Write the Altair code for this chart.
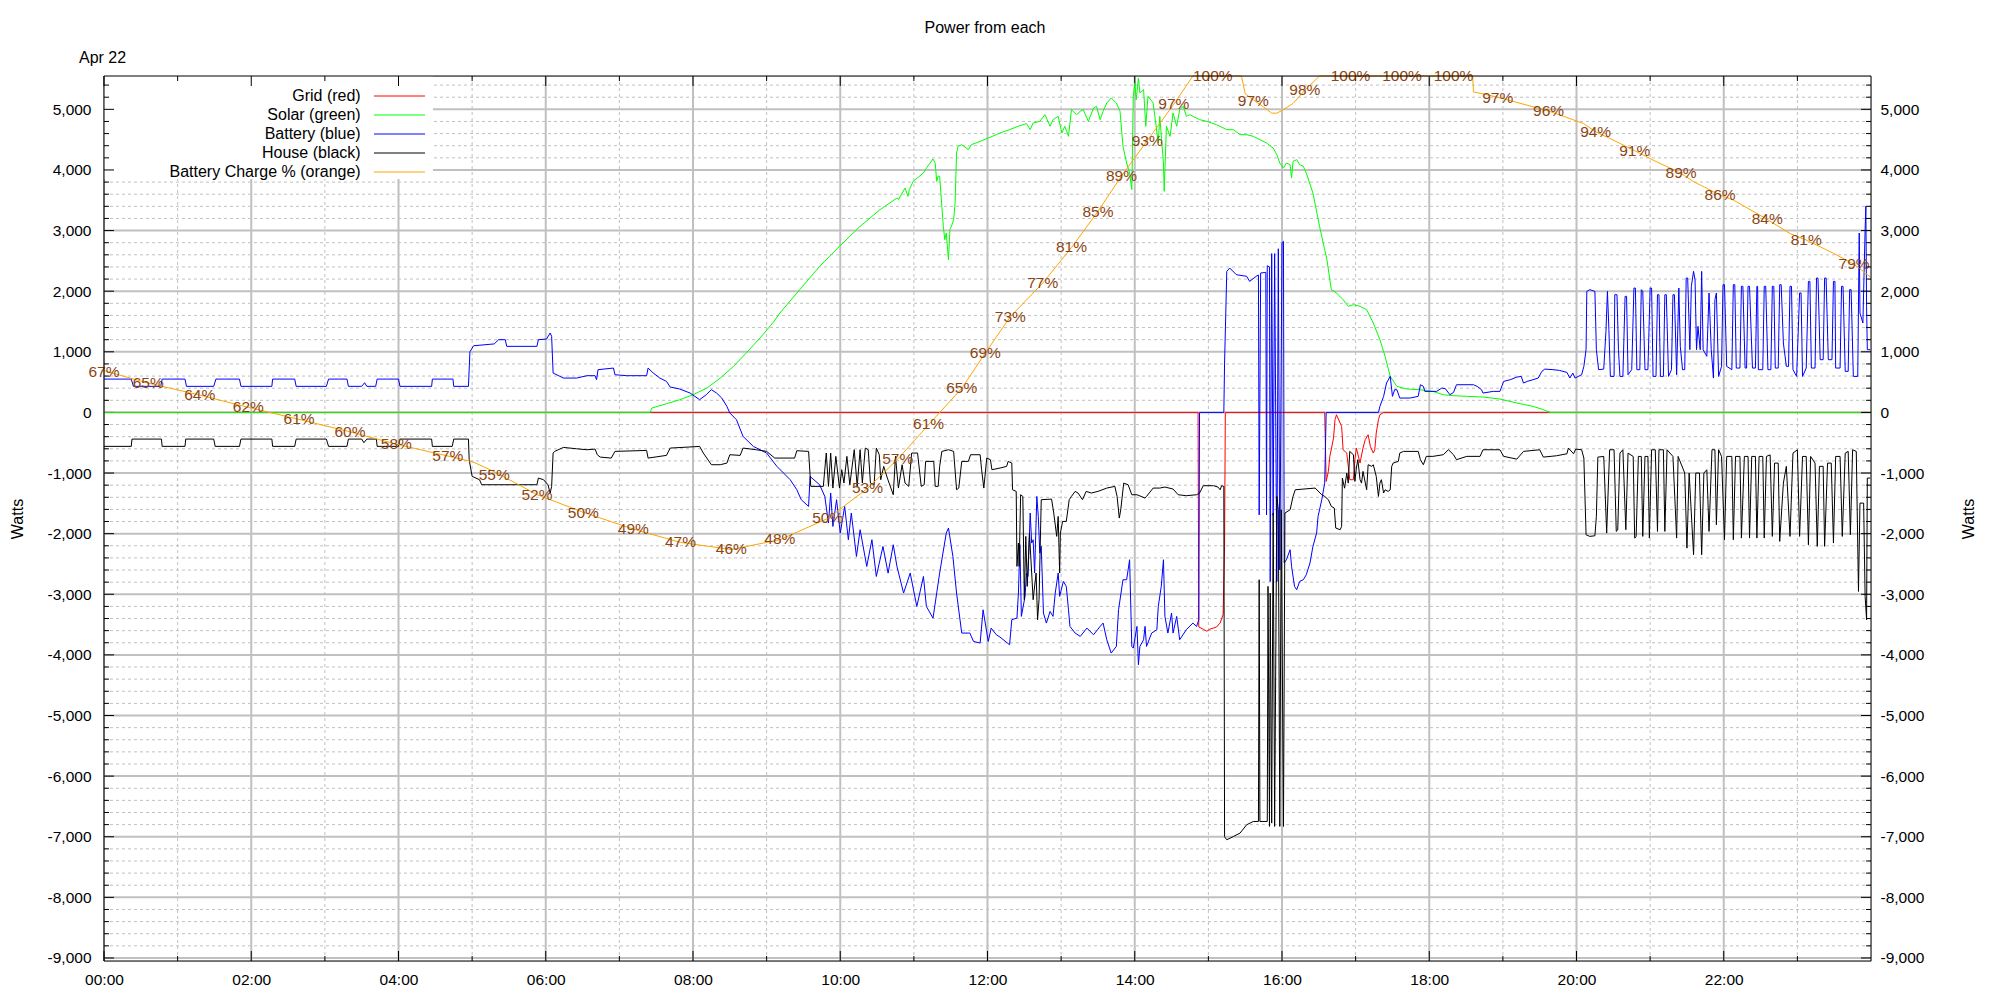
import altair as alt
import pandas as pd

# ------------------------------------------------------------------ data
# time in hours since midnight, value in watts
grid_points = [
    (0.00, 0), (14.86, 0), (14.87, -3541), (14.93, -3576), (14.98, -3610), (15.02, -3576),
    (15.11, -3541), (15.16, -3473), (15.20, -3336), (15.22, -2206), (15.23, 0), (16.58, 0),
    (16.60, -1138), (16.63, -973), (16.65, -726), (16.70, -423), (16.72, -120), (16.74, -38),
    (16.81, -231), (16.83, -616), (16.88, -670), (16.92, -1110), (16.97, -1110), (16.99, -780),
    (17.01, -588), (17.06, -835), (17.10, -588), (17.13, -451), (17.17, -368), (17.20, -561),
    (17.24, -670), (17.26, -616), (17.28, -340), (17.31, -120), (17.33, -38), (17.38, 0), (24.00, 0),
]

solar_points = [
    (0.00, 0), (7.42, 0), (7.44, 72), (7.64, 143), (7.82, 209), (8.00, 292), (8.19, 402),
    (8.37, 567), (8.55, 759), (8.73, 990), (8.91, 1227), (9.09, 1485), (9.18, 1640), (9.45, 2025),
    (9.72, 2410), (9.99, 2740), (10.27, 3070), (10.54, 3345), (10.77, 3537), (10.79, 3510),
    (10.88, 3702), (10.92, 3565), (10.94, 3680), (10.99, 3812), (11.13, 3950), (11.17, 4030),
    (11.26, 4181), (11.29, 4110), (11.31, 3812), (11.33, 3900), (11.35, 3895), (11.38, 3400),
    (11.40, 3070), (11.42, 2850), (11.44, 2960), (11.47, 2520), (11.49, 3020), (11.51, 3070),
    (11.54, 3180), (11.56, 3450), (11.58, 4280), (11.60, 4390), (11.65, 4417), (11.74, 4335),
    (11.78, 4417), (11.90, 4472), (12.12, 4582), (12.17, 4610), (12.30, 4665), (12.44, 4731),
    (12.53, 4764), (12.58, 4665), (12.62, 4775), (12.71, 4802), (12.78, 4912), (12.85, 4720),
    (12.89, 4830), (12.96, 4885), (13.01, 4610), (13.05, 4720), (13.10, 4555), (13.14, 4995),
    (13.21, 4912), (13.26, 4967), (13.30, 4995), (13.37, 4802), (13.44, 5022), (13.48, 5050),
    (13.53, 4830), (13.57, 4967), (13.62, 5105), (13.68, 5187), (13.75, 5105), (13.80, 4967),
    (13.84, 4390), (13.89, 4115), (13.93, 3950), (13.96, 3675), (13.98, 5215), (14.00, 5435),
    (14.02, 5160), (14.05, 5517), (14.07, 5270), (14.12, 5325), (14.15, 4720), (14.18, 5215),
    (14.25, 5105), (14.32, 4445), (14.34, 4885), (14.39, 4115), (14.40, 3647), (14.43, 4720),
    (14.48, 4555), (14.52, 4940), (14.57, 4720), (14.61, 4995), (14.66, 5050), (14.70, 4885),
    (14.75, 4912), (14.79, 4885), (14.88, 4830), (14.98, 4802), (15.11, 4747), (15.25, 4665),
    (15.34, 4665), (15.43, 4582), (15.52, 4582), (15.61, 4555), (15.70, 4500), (15.79, 4445),
    (15.88, 4362), (15.93, 4252), (15.97, 4115), (16.02, 4032), (16.06, 4115), (16.11, 4087),
    (16.13, 3867), (16.15, 4142), (16.20, 4170), (16.24, 4087), (16.29, 4060), (16.33, 3950),
    (16.42, 3620), (16.51, 3070), (16.61, 2520), (16.67, 2025), (16.74, 1970), (16.83, 1860),
    (16.90, 1750), (16.97, 1777), (17.06, 1750), (17.15, 1695), (17.24, 1475), (17.33, 1200),
    (17.40, 925), (17.47, 595), (17.56, 430), (17.69, 386), (17.87, 375), (18.05, 347),
    (18.19, 292), (18.33, 276), (18.51, 265), (18.73, 254), (18.96, 221), (19.19, 155),
    (19.41, 100), (19.55, 45), (19.64, 0), (24.00, 0),
]

battery_points = [
    (0.00, 550), (0.37, 550), (0.40, 430), (0.77, 430), (0.79, 550), (1.10, 550), (1.12, 430),
    (1.49, 430), (1.52, 550), (1.84, 550), (1.86, 430), (2.28, 430), (2.29, 550), (2.59, 550),
    (2.61, 430), (3.02, 430), (3.05, 550), (3.30, 550), (3.32, 430), (3.50, 430), (3.54, 490),
    (3.57, 430), (3.69, 430), (3.71, 550), (4.00, 550), (4.02, 430), (4.45, 430), (4.46, 550),
    (4.74, 550), (4.75, 430), (4.95, 430), (4.97, 1000), (5.02, 1100), (5.30, 1130), (5.36, 1200),
    (5.45, 1200), (5.47, 1090), (5.88, 1090), (5.90, 1200), (6.01, 1210), (6.06, 1310),
    (6.08, 1255), (6.10, 650), (6.24, 567), (6.42, 567), (6.56, 606), (6.67, 606), (6.69, 540),
    (6.71, 705), (6.92, 732), (6.94, 622), (7.10, 606), (7.37, 606), (7.39, 732), (7.46, 650),
    (7.55, 567), (7.64, 512), (7.69, 419), (7.82, 386), (7.96, 320), (8.09, 210), (8.18, 292),
    (8.25, 375), (8.32, 320), (8.39, 238), (8.46, 100), (8.50, -10), (8.59, -120), (8.68, -396),
    (8.82, -561), (9.00, -670), (9.14, -891), (9.32, -1110), (9.41, -1275), (9.47, -1440),
    (9.57, -1551), (9.59, -1056), (9.72, -1193), (9.79, -1385), (9.84, -1825), (9.87, -1330),
    (9.90, -1881), (9.95, -1440), (10.00, -1990), (10.06, -1551), (10.11, -2100), (10.15, -1660),
    (10.22, -2376), (10.27, -1935), (10.36, -2541), (10.43, -2100), (10.49, -2706), (10.58, -2211),
    (10.65, -2651), (10.72, -2183), (10.77, -2541), (10.86, -2980), (10.95, -2651), (11.04, -3201),
    (11.13, -2706), (11.17, -3201), (11.26, -3393), (11.35, -2651), (11.44, -1990), (11.47, -1908),
    (11.53, -2376), (11.58, -2980), (11.65, -3640), (11.76, -3640), (11.81, -3778), (11.90, -3805),
    (11.94, -3256), (12.01, -3778), (12.05, -3558), (12.12, -3668), (12.17, -3706), (12.30, -3833),
    (12.33, -3420), (12.40, -3393), (12.42, -2980), (12.44, -2183), (12.46, -3365), (12.51, -3035),
    (12.53, -2650), (12.55, -2705), (12.58, -1660), (12.60, -2155), (12.62, -2100), (12.64, -2650),
    (12.67, -1386), (12.69, -1716), (12.71, -2320), (12.73, -2210), (12.76, -3310), (12.80, -3475),
    (12.85, -3283), (12.89, -3365), (12.92, -2980), (12.96, -2650), (12.98, -3035), (13.03, -2788),
    (13.07, -2870), (13.10, -3255), (13.12, -3530), (13.19, -3640), (13.26, -3695), (13.35, -3558),
    (13.44, -3668), (13.53, -3530), (13.57, -3475), (13.62, -3750), (13.68, -3970), (13.75, -3860),
    (13.78, -3255), (13.84, -2760), (13.89, -2760), (13.93, -2430), (13.96, -3860), (13.98, -3888),
    (14.03, -3530), (14.05, -4163), (14.07, -3860), (14.12, -3750), (14.14, -3530), (14.16, -3860),
    (14.23, -3640), (14.30, -3585), (14.32, -3200), (14.36, -2870), (14.39, -2430), (14.41, -3365),
    (14.45, -3640), (14.50, -3310), (14.52, -3640), (14.57, -3365), (14.61, -3750), (14.70, -3585),
    (14.79, -3475), (14.84, -3530), (14.87, -3420), (14.88, 0), (15.21, 0), (15.22, 814),
    (15.25, 2327), (15.29, 2382), (15.38, 2272), (15.52, 2245), (15.56, 2162), (15.65, 2245),
    (15.68, 2267), (15.69, -1690), (15.71, 2300), (15.78, 2310), (15.79, -1690), (15.80, 2420),
    (15.83, 2400), (15.84, -2790), (15.86, 2620), (15.88, -1700), (15.90, 2620), (15.93, -2790),
    (15.95, 2700), (15.97, -2600), (16.00, 2800), (16.02, 2822), (16.03, -2485), (16.06, -2430),
    (16.11, -2265), (16.13, -2540), (16.17, -2870), (16.20, -2925), (16.24, -2788), (16.29, -2760),
    (16.33, -2678), (16.38, -2485), (16.42, -2210), (16.47, -1990), (16.49, -1716), (16.54, -1441),
    (16.58, -1166), (16.60, 0), (17.31, 0), (17.33, 100), (17.38, 264), (17.42, 485), (17.47, 595),
    (17.50, 265), (17.53, 375), (17.56, 375), (17.60, 237), (17.74, 237), (17.85, 265), (17.88, 457),
    (17.92, 430), (17.94, 347), (18.10, 347), (18.17, 402), (18.22, 390), (18.28, 292), (18.33, 330),
    (18.37, 457), (18.60, 457), (18.65, 430), (18.71, 375), (18.73, 320), (18.87, 347), (18.96, 347),
    (19.01, 512), (19.10, 540), (19.19, 583), (19.25, 594), (19.28, 485), (19.33, 512), (19.41, 540),
    (19.48, 567), (19.53, 677), (19.57, 715), (19.68, 705), (19.77, 693), (19.87, 660), (19.91, 567),
    (19.95, 649), (19.98, 567), (20.07, 622), (20.10, 760), (20.13, 1035), (20.14, 1997),
    (20.18, 2025), (20.25, 1997), (20.27, 1035), (20.30, 705), (20.37, 715), (20.40, 1337),
    (20.42, 1997), (20.44, 1365), (20.46, 594), (20.51, 594), (20.52, 1942), (20.55, 1942),
    (20.57, 1035), (20.59, 594), (20.63, 594), (20.66, 1915), (20.68, 1915), (20.70, 622),
    (20.75, 705), (20.78, 2052), (20.80, 2052), (20.82, 705), (20.86, 705), (20.88, 2025),
    (20.90, 2000), (20.93, 705), (20.97, 705), (21.00, 2052), (21.02, 2052), (21.04, 594),
    (21.08, 594), (21.10, 1942), (21.12, 1942), (21.14, 594), (21.18, 594), (21.20, 1942),
    (21.22, 1942), (21.25, 594), (21.29, 705), (21.31, 1942), (21.33, 1942), (21.36, 622),
    (21.39, 2052), (21.41, 1090), (21.44, 705), (21.47, 705), (21.49, 2217), (21.51, 2217),
    (21.54, 1035), (21.56, 2080), (21.59, 2327), (21.61, 2190), (21.63, 1035), (21.65, 1420),
    (21.68, 1035), (21.70, 2327), (21.72, 1035), (21.77, 925), (21.80, 1970), (21.83, 1035),
    (21.86, 567), (21.88, 1860), (21.90, 1970), (21.93, 594), (21.97, 760), (21.99, 2107),
    (22.01, 2107), (22.04, 760), (22.11, 705), (22.13, 2107), (22.15, 2107), (22.17, 732),
    (22.22, 732), (22.24, 2080), (22.26, 2080), (22.29, 732), (22.31, 732), (22.33, 2080),
    (22.35, 2080), (22.39, 732), (22.43, 732), (22.45, 2080), (22.46, 2080), (22.47, 705),
    (22.53, 705), (22.55, 2080), (22.57, 2080), (22.60, 705), (22.64, 705), (22.66, 2080),
    (22.68, 2080), (22.70, 732), (22.74, 732), (22.76, 2107), (22.78, 2107), (22.81, 1145),
    (22.85, 760), (22.88, 760), (22.90, 2080), (22.92, 2080), (22.94, 705), (22.99, 594),
    (23.03, 1970), (23.05, 1970), (23.07, 594), (23.12, 732), (23.15, 2162), (23.17, 2162),
    (23.19, 732), (23.24, 732), (23.26, 2217), (23.28, 2217), (23.31, 870), (23.35, 870),
    (23.37, 2217), (23.39, 2217), (23.42, 870), (23.47, 870), (23.49, 2162), (23.51, 2162),
    (23.52, 732), (23.58, 732), (23.60, 2080), (23.62, 2080), (23.65, 677), (23.69, 677),
    (23.71, 2025), (23.73, 2025), (23.76, 594), (23.82, 594), (23.84, 2960), (23.85, 1640),
    (23.89, 1475), (23.92, 3015), (23.93, 3400), (23.94, 1750), (23.95, 1035), (23.99, 1035),
]

house_points = [
    (0.00, -560), (0.37, -560), (0.38, -440), (0.78, -440), (0.79, -560), (1.10, -560),
    (1.11, -440), (1.49, -440), (1.51, -560), (1.84, -560), (1.86, -440), (2.28, -440),
    (2.29, -560), (2.59, -560), (2.61, -440), (3.02, -440), (3.05, -560), (3.30, -560),
    (3.32, -440), (3.50, -440), (3.53, -500), (3.57, -440), (3.70, -440), (3.71, -560),
    (4.00, -560), (4.02, -440), (4.45, -440), (4.46, -560), (4.73, -560), (4.75, -440),
    (4.95, -440), (4.96, -780), (5.00, -1055), (5.10, -1110), (5.13, -1193), (5.38, -1193),
    (5.88, -1193), (5.90, -1083), (5.97, -1110), (6.03, -1193), (6.06, -1330), (6.08, -1220),
    (6.10, -670), (6.12, -643), (6.24, -577), (6.42, -600), (6.56, -616), (6.67, -605),
    (6.70, -698), (6.74, -737), (6.89, -753), (6.94, -643), (7.37, -627), (7.39, -753),
    (7.64, -709), (7.69, -588), (8.09, -561), (8.14, -670), (8.25, -863), (8.37, -863),
    (8.46, -836), (8.50, -698), (8.64, -709), (8.68, -588), (8.86, -616), (9.00, -643),
    (9.11, -753), (9.38, -753), (9.41, -632), (9.57, -643), (9.60, -1220), (9.77, -1220),
    (9.81, -670), (9.84, -1220), (9.87, -670), (9.90, -1248), (9.94, -725), (9.99, -1248),
    (10.02, -945), (10.05, -1165), (10.09, -725), (10.13, -1193), (10.19, -615), (10.23, -1220),
    (10.27, -615), (10.30, -1165), (10.34, -588), (10.38, -615), (10.41, -1165), (10.46, -1193),
    (10.49, -588), (10.53, -698), (10.55, -1110), (10.59, -890), (10.64, -1083), (10.72, -1358),
    (10.75, -725), (10.79, -1248), (10.84, -863), (10.88, -1165), (10.93, -1220), (10.97, -670),
    (11.05, -670), (11.10, -1220), (11.14, -1193), (11.16, -808), (11.27, -808), (11.29, -1220),
    (11.33, -1220), (11.35, -890), (11.38, -643), (11.47, -615), (11.54, -643), (11.58, -1275),
    (11.61, -1248), (11.65, -808), (11.74, -808), (11.77, -698), (11.90, -698), (11.92, -945),
    (11.95, -1248), (11.99, -753), (12.04, -780), (12.06, -945), (12.17, -918), (12.26, -890),
    (12.28, -808), (12.33, -835), (12.34, -1276), (12.39, -1303), (12.40, -2540), (12.42, -2155),
    (12.43, -2540), (12.45, -1358), (12.48, -1386), (12.50, -3090), (12.52, -2045), (12.54, -2870),
    (12.57, -1990), (12.60, -2650), (12.62, -3090), (12.66, -2650), (12.68, -3420), (12.70, -3090),
    (12.73, -1440), (12.87, -1430), (12.90, -1660), (12.94, -2045), (12.96, -1716), (12.98, -2650),
    (12.99, -1990), (13.02, -1798), (13.07, -1798), (13.11, -1440), (13.14, -1386), (13.19, -1303),
    (13.23, -1330), (13.29, -1440), (13.34, -1303), (13.41, -1330), (13.50, -1303), (13.62, -1248),
    (13.73, -1220), (13.76, -1386), (13.79, -1743), (13.81, -1606), (13.85, -1166), (13.91, -1193),
    (13.96, -1358), (14.03, -1358), (14.14, -1413), (14.16, -1386), (14.25, -1248), (14.34, -1248),
    (14.41, -1231), (14.52, -1264), (14.59, -1358), (14.70, -1374), (14.84, -1358), (14.88, -1330),
    (14.93, -1209), (15.07, -1209), (15.13, -1231), (15.16, -1276), (15.18, -1209), (15.21, -1220),
    (15.22, -7000), (15.25, -7050), (15.34, -6996), (15.43, -6940), (15.52, -6803), (15.61, -6748),
    (15.68, -6748), (15.69, -2760), (15.70, -6748), (15.80, -6748), (15.81, -2870), (15.83, -6830),
    (15.84, -2980), (15.86, -6775), (15.88, -1660), (15.90, -6830), (15.93, -1386), (15.95, -1606),
    (15.97, -6830), (15.99, -1606), (16.02, -6830), (16.04, -1660), (16.11, -1606), (16.15, -1386),
    (16.18, -1276), (16.45, -1248), (16.54, -1358), (16.58, -1386), (16.63, -1440), (16.67, -1550),
    (16.71, -1578), (16.73, -1908), (16.79, -1935), (16.81, -1880), (16.82, -1083), (16.85, -1250),
    (16.88, -1000), (16.90, -1166), (16.92, -643), (16.97, -698), (16.99, -1138), (17.01, -918),
    (17.03, -780), (17.06, -1110), (17.08, -1166), (17.10, -973), (17.15, -1276), (17.17, -863),
    (17.22, -890), (17.24, -863), (17.28, -1055), (17.31, -1386), (17.33, -1166), (17.35, -1110),
    (17.38, -1330), (17.40, -1276), (17.44, -1303), (17.47, -1276), (17.49, -890), (17.51, -835),
    (17.58, -808), (17.60, -670), (17.65, -643), (17.85, -643), (17.88, -780), (17.92, -863),
    (17.96, -725), (18.05, -725), (18.19, -698), (18.26, -616), (18.33, -698), (18.37, -780),
    (18.51, -725), (18.69, -725), (18.73, -616), (18.96, -616), (19.01, -725), (19.19, -770),
    (19.28, -643), (19.50, -616), (19.55, -737), (19.73, -715), (19.87, -682), (19.89, -588),
    (19.96, -682), (19.99, -605), (20.07, -616), (20.10, -753), (20.13, -2018), (20.18, -2045),
    (20.25, -2035), (20.27, -1715), (20.29, -737), (20.37, -726), (20.41, -1990), (20.45, -616),
    (20.51, -616), (20.54, -1963), (20.56, -1940), (20.59, -671), (20.63, -616), (20.67, -1935),
    (20.70, -671), (20.77, -726), (20.79, -2073), (20.81, -2050), (20.84, -726), (20.88, -726),
    (20.90, -2045), (20.93, -726), (20.97, -726), (20.99, -2073), (21.02, -616), (21.07, -616),
    (21.10, -1963), (21.12, -616), (21.18, -616), (21.20, -1963), (21.23, -616), (21.31, -726),
    (21.36, -2073), (21.38, -726), (21.47, -1000), (21.50, -2238), (21.53, -1000), (21.59, -2348),
    (21.62, -1000), (21.67, -1000), (21.70, -2348), (21.73, -1000), (21.77, -946), (21.80, -1963),
    (21.84, -616), (21.88, -616), (21.90, -1853), (21.93, -616), (21.97, -726), (22.01, -2100),
    (22.04, -726), (22.11, -726), (22.13, -2100), (22.16, -726), (22.22, -726), (22.24, -2073),
    (22.28, -726), (22.33, -726), (22.35, -2073), (22.38, -726), (22.43, -726), (22.45, -2073),
    (22.48, -726), (22.53, -726), (22.55, -2073), (22.58, -726), (22.63, -700), (22.66, -2045),
    (22.69, -836), (22.74, -836), (22.76, -2128), (22.81, -1166), (22.85, -890), (22.90, -2045),
    (22.94, -671), (23.00, -616), (23.03, -2045), (23.07, -726), (23.12, -726), (23.15, -2183),
    (23.18, -726), (23.24, -836), (23.27, -2210), (23.30, -890), (23.35, -890), (23.37, -2210),
    (23.41, -836), (23.46, -836), (23.49, -2155), (23.52, -726), (23.58, -726), (23.61, -2045),
    (23.65, -671), (23.69, -643), (23.72, -2018), (23.75, -616), (23.80, -643), (23.83, -2953),
    (23.85, -1496), (23.90, -1496), (23.92, -3035), (23.94, -3420), (23.95, -1083), (23.99, -1083),
]

# battery state of charge, percent
charge_points = [
    (0.00, 66.7), (0.60, 65.3), (1.30, 63.95), (1.96, 62.56), (2.65, 61.2), (3.34, 59.8),
    (3.97, 58.4), (4.67, 57.06), (5.01, 56.4), (5.30, 55.3), (5.88, 52.7), (6.51, 50.7),
    (7.19, 48.8), (7.83, 47.3), (8.52, 46.5), (9.18, 47.6), (9.83, 50.0), (10.37, 53.4),
    (10.78, 56.7), (11.20, 60.6), (11.65, 64.7), (11.97, 68.7), (12.31, 72.8), (12.75, 76.6),
    (13.14, 80.6), (13.50, 84.7), (13.82, 88.7), (14.17, 92.7), (14.53, 96.8), (14.79, 100),
    (15.45, 100), (15.50, 98.0), (15.61, 97.3), (15.75, 96.5), (15.86, 95.8), (15.93, 95.8),
    (16.02, 96.2), (16.15, 96.9), (16.31, 98.4), (16.51, 100), (18.59, 100), (18.60, 98.2),
    (18.72, 98.0), (18.93, 97.6), (19.62, 96.05), (20.09, 94.65), (20.26, 93.7), (20.45, 92.96),
    (20.79, 91.56), (21.04, 90.5), (21.42, 89.0), (21.59, 88.06), (21.95, 86.55), (22.13, 85.99),
    (22.59, 83.8), (22.90, 82.2), (23.12, 81.47), (23.49, 79.97), (23.77, 78.72), (23.99, 77.3),
]

charge_labels = [
    (0.00, 66.6, "67%"), (0.60, 65.3, "65%"), (1.30, 63.95, "64%"), (1.96, 62.56, "62%"),
    (2.65, 61.2, "61%"), (3.34, 59.8, "60%"), (3.97, 58.4, "58%"), (4.67, 57.06, "57%"),
    (5.30, 54.9, "55%"), (5.88, 52.65, "52%"), (6.51, 50.66, "50%"), (7.19, 48.78, "49%"),
    (7.83, 47.31, "47%"), (8.52, 46.55, "46%"), (9.18, 47.65, "48%"), (9.83, 50.02, "50%"),
    (10.37, 53.41, "53%"), (10.78, 56.69, "57%"), (11.20, 60.64, "61%"), (11.65, 64.71, "65%"),
    (11.97, 68.67, "69%"), (12.31, 72.8, "73%"), (12.75, 76.64, "77%"), (13.14, 80.64, "81%"),
    (13.50, 84.67, "85%"), (13.82, 88.7, "89%"), (14.17, 92.69, "93%"), (14.53, 96.8, "97%"),
    (15.06, 100, "100%"), (15.61, 97.18, "97%"), (16.31, 98.42, "98%"), (16.93, 100, "100%"),
    (17.63, 100, "100%"), (18.33, 100, "100%"), (18.93, 97.55, "97%"), (19.62, 96.05, "96%"),
    (20.26, 93.7, "94%"), (20.79, 91.56, "91%"), (21.42, 89.0, "89%"), (21.95, 86.55, "86%"),
    (22.59, 83.8, "84%"), (23.12, 81.47, "81%"), (23.77, 78.72, "79%"),
]

legend_labels = ["Grid (red)", "Solar (green)", "Battery (blue)", "House (black)",
                 "Battery Charge % (orange)"]
legend_colors = ["#ff0000", "#00ff00", "#0000ff", "#000000", "#ffa500"]

y_major = list(range(-9000, 5001, 1000))
y_minor = [v for v in range(-9000, 5401, 200) if v % 1000 != 0]
x_major = list(range(0, 24, 2))
x_minor = list(range(1, 24, 2))

# ------------------------------------------------------------------ layout / style
W, H = 1767, 885
Y_DOMAIN = [-9050, 5550]
FONT = "Liberation Sans"
GRID = "#c0c0c0"
LABEL_BROWN = "#8b4513"

xscale = alt.Scale(domain=[0, 24], nice=False, zero=False)
yscale = alt.Scale(domain=Y_DOMAIN, nice=False, zero=False)
pscale = alt.Scale(domain=[0, 100], nice=False, zero=False)

YLAB = "(datum.value < 0 ? '-' : '') + format(abs(datum.value), ',')"
XLAB = "(datum.value < 10 ? '0' : '') + datum.value + ':00'"

one = pd.DataFrame({"a": [0]})


def xenc(axis=alt.Undefined):
    return alt.X("h:Q", scale=xscale, axis=axis)


def yenc(axis=alt.Undefined):
    return alt.Y("w:Q", scale=yscale, axis=axis)


def frame(points):
    return pd.DataFrame({"h": [p[0] for p in points], "w": [p[1] for p in points],
                         "i": list(range(len(points)))})


def series(points, color):
    return alt.Chart(frame(points)).mark_line(color=color, strokeWidth=1).encode(
        x=xenc(), y=yenc(), order=alt.Order("i:Q"))


left_axis = alt.Axis(
    orient="left", values=y_major, labelExpr=YLAB, ticks=False, domain=False, grid=False,
    labelPadding=13, labelFontSize=15.5, labelFont=FONT, labelColor="#000", labelOverlap=False,
    title="Watts", titleFont=FONT, titleFontSize=16, titleFontWeight="normal", titleColor="#000",
    titleAngle=270, titleX=-87, titleY=H / 2, titleAlign="center", titleBaseline="middle")

right_axis = alt.Axis(
    orient="right", values=y_major, labelExpr=YLAB, ticks=False, domain=False, grid=False,
    labelPadding=9, labelFontSize=15.5, labelFont=FONT, labelColor="#000", labelOverlap=False,
    title="Watts", titleFont=FONT, titleFontSize=16, titleFontWeight="normal", titleColor="#000",
    titleAngle=270, titleX=97, titleY=H / 2, titleAlign="center", titleBaseline="middle")

bottom_axis = alt.Axis(
    orient="bottom", values=x_major, labelExpr=XLAB, ticks=False, domain=False, grid=False,
    labelPadding=11, labelFontSize=15.5, labelFont=FONT, labelColor="#000", labelFlush=False,
    labelOverlap=False, title=None)

ymaj_df = pd.DataFrame({"w": y_major})
ymin_df = pd.DataFrame({"w": y_minor})
xmaj_df = pd.DataFrame({"h": x_major})
xmin_df = pd.DataFrame({"h": x_minor})

# the axis-carrying layers come first so their explicit settings win the merge
grid_major_h = alt.Chart(ymaj_df).mark_rule(color=GRID, strokeWidth=2).encode(y=yenc(left_axis))
grid_major_v = alt.Chart(xmaj_df).mark_rule(color=GRID, strokeWidth=2).encode(x=xenc(bottom_axis))
grid_minor_h = alt.Chart(ymin_df).mark_rule(color=GRID, strokeWidth=1, strokeDash=[3, 3]).encode(y=yenc())
grid_minor_v = alt.Chart(xmin_df).mark_rule(color=GRID, strokeWidth=1, strokeDash=[3, 3]).encode(x=xenc())

legend_box = alt.Chart(one).mark_rect(color="white").encode(
    x=alt.value(0), x2=alt.value(329), y=alt.value(0), y2=alt.value(103))

tick_style = dict(color="black", strokeWidth=1)
ticks = [
    alt.Chart(ymaj_df).mark_rule(**tick_style).encode(y=yenc(), x=alt.value(0), x2=alt.value(10)),
    alt.Chart(ymin_df).mark_rule(**tick_style).encode(y=yenc(), x=alt.value(0), x2=alt.value(5)),
    alt.Chart(xmaj_df).mark_rule(**tick_style).encode(x=xenc(), y=alt.value(H - 10), y2=alt.value(H)),
    alt.Chart(xmin_df).mark_rule(**tick_style).encode(x=xenc(), y=alt.value(H - 5), y2=alt.value(H)),
    alt.Chart(xmaj_df).mark_rule(**tick_style).encode(x=xenc(), y=alt.value(0), y2=alt.value(10)),
    alt.Chart(xmin_df).mark_rule(**tick_style).encode(x=xenc(), y=alt.value(0), y2=alt.value(5)),
]

main = alt.layer(
    grid_major_h, grid_major_v, grid_minor_h, grid_minor_v, legend_box, *ticks,
    series(grid_points, "#ff0000"),
    series(solar_points, "#00ff00"),
    series(battery_points, "#0000ff"),
    series(house_points, "#000000"),
)

charge_df = pd.DataFrame({"h": [p[0] for p in charge_points], "pct": [p[1] for p in charge_points],
                          "i": list(range(len(charge_points)))})
label_df = pd.DataFrame({"h": [p[0] for p in charge_labels], "pct": [p[1] for p in charge_labels],
                         "txt": [p[2] for p in charge_labels]})

charge = alt.layer(
    alt.Chart(charge_df).mark_line(color="#ffa500", strokeWidth=1).encode(
        x=xenc(), y=alt.Y("pct:Q", scale=pscale, axis=None), order=alt.Order("i:Q")),
    alt.Chart(label_df).mark_text(color=LABEL_BROWN, font=FONT, fontSize=15.5,
                                  align="center", baseline="middle").encode(
        x=xenc(), y=alt.Y("pct:Q", scale=pscale, axis=None), text="txt:N"),
)

right = alt.layer(
    alt.Chart(ymaj_df).mark_rule(**tick_style).encode(
        y=yenc(right_axis), x=alt.value(W - 10), x2=alt.value(W)),
    alt.Chart(ymin_df).mark_rule(**tick_style).encode(
        y=yenc(), x=alt.value(W - 5), x2=alt.value(W)),
)

legend_layers = []
for k, (lab, col) in enumerate(zip(legend_labels, legend_colors)):
    legend_layers.append(
        alt.Chart(one).mark_text(text=lab, font=FONT, fontSize=16, color="black",
                                 align="right", baseline="middle").encode(
            x=alt.value(256.7), y=alt.value(20 + 19 * k)))
    legend_layers.append(
        alt.Chart(one).mark_rule(color=col, strokeWidth=1).encode(
            x=alt.value(270), x2=alt.value(321), y=alt.value(20 + 19 * k)))

border = alt.Chart(one).mark_rect(fillOpacity=0, stroke="black", strokeWidth=1).encode(
    x=alt.value(0), x2=alt.value(W), y=alt.value(0), y2=alt.value(H))

title_text = alt.Chart(one).mark_text(text="Power from each", font=FONT, fontSize=16,
                                      color="black", align="center", baseline="alphabetic").encode(
    x=alt.value(881), y=alt.value(-43.5))
date_text = alt.Chart(one).mark_text(text="Apr 22", font=FONT, fontSize=16, color="black",
                                     align="left", baseline="alphabetic").encode(
    x=alt.value(-25), y=alt.value(-13.3))

chart = alt.layer(
    main, charge, right, border, *legend_layers, title_text, date_text
).resolve_scale(y="independent").properties(
    width=W, height=H,
    autosize=alt.AutoSizeParams(type="none"),
    padding={"left": 96, "top": 68, "right": 110, "bottom": 30},
).configure_view(stroke=None).configure(background="white")

chart.save("out.html", embed_options={"renderer": "svg", "actions": False})
